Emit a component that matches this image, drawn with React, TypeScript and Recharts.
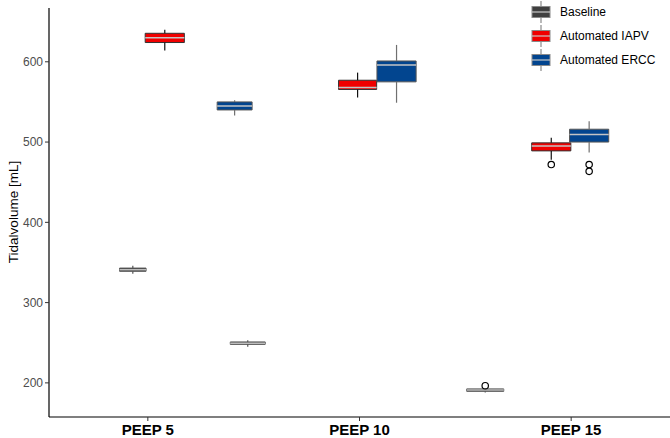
import React from 'react';
import {
  ComposedChart,
  XAxis,
  YAxis,
  ReferenceArea,
  ReferenceLine,
  Scatter,
} from 'recharts';

// PEEP levels on the x axis (positions 1, 2, 3)
const peepLevels = ['PEEP 5', 'PEEP 10', 'PEEP 15'];
const seriesNames = ['Baseline', 'Automated IAPV', 'Automated ERCC'];

// Five-number summaries per series, one entry per PEEP level [mL]
const baselineLow = [336, 245, 188];
const baselineQ1 = [339, 248, 189.5];
const baselineMedian = [341, 249.5, 191];
const baselineQ3 = [343, 251, 192.5];
const baselineHigh = [346, 253, 194];
const baselineOutliers = [[], [], [196.5]];

const iapvLow = [614, 555.5, 478];
const iapvQ1 = [624, 565.5, 489];
const iapvMedian = [630, 568, 495];
const iapvQ3 = [635.5, 577, 499];
const iapvHigh = [640, 586.5, 505.5];
const iapvOutliers = [[], [], [472]];

const erccLow = [533, 549, 487];
const erccQ1 = [540, 575, 500];
const erccMedian = [545, 596, 509.5];
const erccQ3 = [550, 601, 516];
const erccHigh = [552, 621, 526];
const erccOutliers = [[], [], [472, 463.5]];

const yTicks = [200, 300, 400, 500, 600];

// Layout: box centres on the continuous x scale and box widths (x units)
const baselineCenters = [0.929, 1.472, 2.594];
const iapvCenters = [1.08, 1.991, 2.906];
const erccCenters = [1.41, 2.175, 3.085];
const baselineWidth = [0.125, 0.165, 0.175];
const iapvWidth = [0.185, 0.18, 0.185];
const erccWidth = [0.165, 0.185, 0.185];

const styles = [
  { fill: '#3f3f3f', stroke: '#555555', whisker: '#555555', median: '#bdbdbd' },
  { fill: '#f00000', stroke: '#333333', whisker: '#111111', median: '#c4c4c4' },
  { fill: '#02458f', stroke: '#555555', whisker: '#707070', median: '#c4c4c4' },
];

type BoxSeries = {
  name: string;
  low: number[];
  q1: number[];
  median: number[];
  q3: number[];
  high: number[];
  outliers: number[][];
  centers: number[];
  widths: number[];
};

const series: BoxSeries[] = [
  {
    name: seriesNames[0], low: baselineLow, q1: baselineQ1, median: baselineMedian,
    q3: baselineQ3, high: baselineHigh, outliers: baselineOutliers,
    centers: baselineCenters, widths: baselineWidth,
  },
  {
    name: seriesNames[1], low: iapvLow, q1: iapvQ1, median: iapvMedian,
    q3: iapvQ3, high: iapvHigh, outliers: iapvOutliers,
    centers: iapvCenters, widths: iapvWidth,
  },
  {
    name: seriesNames[2], low: erccLow, q1: erccQ1, median: erccMedian,
    q3: erccQ3, high: erccHigh, outliers: erccOutliers,
    centers: erccCenters, widths: erccWidth,
  },
];

const OutlierDot = (props: any) => {
  const { cx, cy } = props;
  if (cx == null || cy == null) return null;
  return <circle cx={cx} cy={cy} r={3.2} fill="#ffffff" stroke="#000000" strokeWidth={1.2} />;
};

const LegendBlock = () => (
  <div
    style={{
      position: 'absolute',
      left: 531,
      top: 0,
      fontFamily: 'Liberation Sans, Arial, sans-serif',
      fontSize: 12,
      color: '#000',
    }}
  >
    {series.map((s, i) => (
      <div key={s.name} style={{ display: 'flex', alignItems: 'center', height: 24 }}>
        <svg width={20} height={24} style={{ display: 'block' }}>
          <line x1={10} y1={1} x2={10} y2={23} stroke="#8a8a8a" strokeWidth={1.2} />
          <rect x={1} y={6.5} width={18} height={11} fill={styles[i].fill} stroke="#8a8a8a" strokeWidth={1} />
          <line x1={1} y1={12} x2={19} y2={12} stroke="#c8c8c8" strokeWidth={1.2} />
        </svg>
        <span style={{ marginLeft: 9 }}>{s.name}</span>
      </div>
    ))}
  </div>
);

const YLabel = () => (
  <text
    x={13}
    y={212}
    transform="rotate(-90 13 212)"
    textAnchor="middle"
    dominantBaseline="central"
    fontSize={13.5}
    fill="#000"
    fontFamily="Liberation Sans, Arial, sans-serif"
  >
    Tidalvolume [mL]
  </text>
);

export default function App() {
  return (
    <div style={{ position: 'absolute', left: 0, top: 0, width: 670, height: 438, background: '#fff' }}>
      <ComposedChart
        width={670}
        height={438}
        margin={{ top: 8, right: 0, bottom: 0, left: 0 }}
        style={{ fontFamily: 'Liberation Sans, Arial, sans-serif' }}
      >
        <XAxis
          type="number"
          dataKey="x"
          domain={[0.533, 3.467]}
          allowDataOverflow
          ticks={[1, 2, 3]}
          tickFormatter={(v: number) => peepLevels[v - 1]}
          height={21}
          tickSize={4}
          tickMargin={3}
          stroke="#000"
          tick={{ fill: '#000', fontSize: 15, fontWeight: 700 }}
          axisLine={{ stroke: '#000', strokeWidth: 1.2 }}
          tickLine={{ stroke: '#333' }}
        />
        <YAxis
          type="number"
          dataKey="y"
          domain={[157.5, 667]}
          allowDataOverflow
          ticks={yTicks}
          width={49}
          tickSize={4}
          tickMargin={2}
          tick={{ fill: '#4d4d4d', fontSize: 12 }}
          axisLine={{ stroke: '#000', strokeWidth: 1.2 }}
          tickLine={{ stroke: '#333' }}
          label={<YLabel />}
        />
        {series.map((s, si) =>
          s.low.map((_, gi) => {
            const c = s.centers[gi];
            const hw = s.widths[gi] / 2;
            const st = styles[si];
            return (
              <React.Fragment key={`${si}-${gi}`}>
                <ReferenceLine
                  segment={[{ x: c, y: s.low[gi] }, { x: c, y: s.q1[gi] }]}
                  stroke={st.whisker}
                  strokeWidth={1.2}
                />
                <ReferenceLine
                  segment={[{ x: c, y: s.q3[gi] }, { x: c, y: s.high[gi] }]}
                  stroke={st.whisker}
                  strokeWidth={1.2}
                />
                <ReferenceArea
                  x1={c - hw}
                  x2={c + hw}
                  y1={s.q1[gi]}
                  y2={s.q3[gi]}
                  fill={st.fill}
                  fillOpacity={1}
                  stroke={st.stroke}
                  strokeWidth={1}
                />
                <ReferenceLine
                  segment={[{ x: c - hw, y: s.median[gi] }, { x: c + hw, y: s.median[gi] }]}
                  stroke={st.median}
                  strokeWidth={1.5}
                />
              </React.Fragment>
            );
          })
        )}
        {series.map((s) => (
          <Scatter
            key={s.name}
            name={s.name}
            data={s.outliers.flatMap((vals, gi) => vals.map((v) => ({ x: s.centers[gi], y: v })))}
            shape={<OutlierDot />}
            isAnimationActive={false}
          />
        ))}
      </ComposedChart>
      <LegendBlock />
    </div>
  );
}
